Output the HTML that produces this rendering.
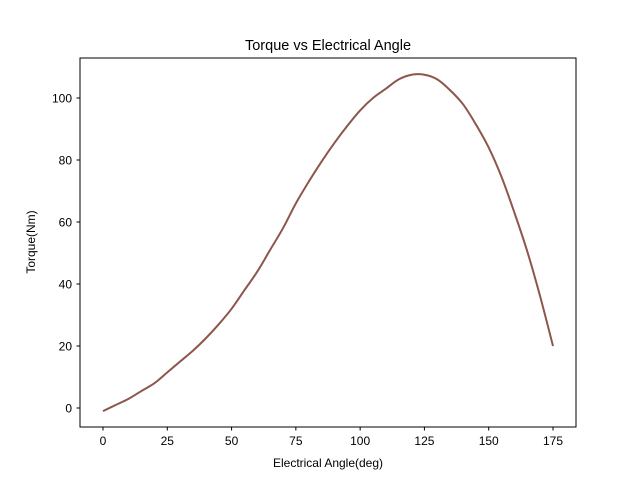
<!DOCTYPE html>
<html><head><meta charset="utf-8"><style>
body{margin:0;background:#fff}
svg{display:block;font-family:"Liberation Sans","DejaVu Sans",sans-serif}
</style></head><body>
<svg id="chart" width="640" height="480">
<rect width="640" height="480" fill="#fff"/>
<text x="328" y="50" font-size="14.5" text-anchor="middle">Torque vs Electrical Angle</text>
<g id="xt"></g><g id="yt"></g>
<path id="line" fill="none" stroke="#8c564b" stroke-width="2" stroke-linejoin="round"/>
<rect x="80" y="58" width="496" height="369" fill="none" stroke="#000" stroke-width="1"/>
<text x="328" y="467" font-size="12" text-anchor="middle">Electrical Angle(deg)</text>
<text transform="translate(35,242) rotate(-90)" font-size="12" text-anchor="middle">Torque(Nm)</text>
</svg>
<script>
const angles=[0,5,10,15,20,25,30,35,40,45,50,55,60,65,70,75,80,85,90,95,100,105,110,115,120,125,130,135,140,145,150,155,160,165,170,175];
const torque=[-1,1,3,5.5,8,11.5,15,18.5,22.5,27,32,38,44,51,58,66,73,79.5,85.5,91,96,100,103,106,107.5,107.5,106,102.5,98,91.5,84,74.5,63,50.5,36,20];
const xTicks=[0,25,50,75,100,125,150,175];
const yTicks=[0,20,40,60,80,100];
const X=v=>103+v*450/175;
const Y=v=>408-v*3.1;
const ns="http://www.w3.org/2000/svg";
const P=angles.map((a,i)=>[X(a),Y(torque[i])]);
let d='M'+P[0][0].toFixed(2)+','+P[0][1].toFixed(2);
for(let i=0;i<P.length-1;i++){
 const p0=P[Math.max(i-1,0)],p1=P[i],p2=P[i+1],p3=P[Math.min(i+2,P.length-1)];
 const c1=[p1[0]+(p2[0]-p0[0])/6,p1[1]+(p2[1]-p0[1])/6];
 const c2=[p2[0]-(p3[0]-p1[0])/6,p2[1]-(p3[1]-p1[1])/6];
 d+='C'+c1.map(v=>v.toFixed(2)).join(',')+' '+c2.map(v=>v.toFixed(2)).join(',')+' '+p2.map(v=>v.toFixed(2)).join(',');
}
document.getElementById('line').setAttribute('d',d);
const xt=document.getElementById('xt'),yt=document.getElementById('yt');
xTicks.forEach(t=>{
 const l=document.createElementNS(ns,'line');
 l.setAttribute('x1',X(t));l.setAttribute('x2',X(t));l.setAttribute('y1',427);l.setAttribute('y2',430.5);l.setAttribute('stroke','#000');
 
 
 xt.appendChild(l);
 const s=document.createElementNS(ns,'text');
 s.setAttribute('x',X(t));s.setAttribute('y',445);s.setAttribute('font-size','12');s.setAttribute('text-anchor','middle');s.textContent=t;
 
 
 xt.appendChild(s);
});
yTicks.forEach(t=>{
 const l=document.createElementNS(ns,'line');
 l.setAttribute('x1',76.5);l.setAttribute('x2',80);l.setAttribute('y1',Y(t));l.setAttribute('y2',Y(t));l.setAttribute('stroke','#000');
 
 
 yt.appendChild(l);
 const s=document.createElementNS(ns,'text');
 s.setAttribute('x',72);s.setAttribute('y',Y(t)+4.5);s.setAttribute('font-size','12');s.setAttribute('text-anchor','end');s.textContent=t;
 
 
 yt.appendChild(s);
});
</script>
</body></html>
